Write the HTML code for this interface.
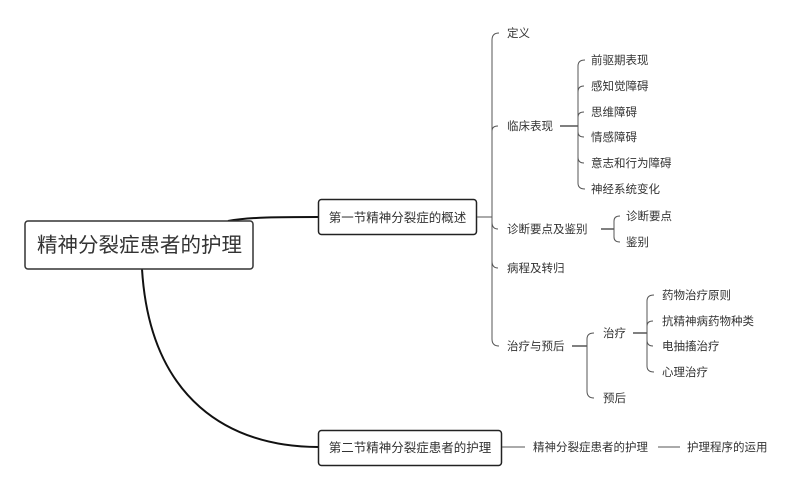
<!DOCTYPE html>
<html><head><meta charset="utf-8"><style>
html,body{margin:0;padding:0;background:#fff;}
svg text{font-family:"Liberation Sans","Noto Sans CJK SC",sans-serif;fill:#333;}
</style></head><body>
<svg width="800" height="489" viewBox="0 0 800 489" xmlns="http://www.w3.org/2000/svg">
<g fill="none" stroke="#111" stroke-width="2">
<path d="M228,221 C250,217 280,217 318,217"/>
<path d="M142,269 C150,400 230,447 318,447"/>
</g>
<rect x="25" y="221" width="228" height="48" rx="3" fill="#fff" stroke="#333" stroke-width="1.5"/>
<text x="139.5" y="252" font-size="20.5" text-anchor="middle">精神分裂症患者的护理</text>
<rect x="318.5" y="199.5" width="158" height="35" rx="3" fill="#fff" stroke="#222" stroke-width="1.5"/>
<text x="397.5" y="222" font-size="12.5" text-anchor="middle" fill="#111">第一节精神分裂症的概述</text>
<rect x="318.5" y="430.5" width="183" height="35" rx="3" fill="#fff" stroke="#222" stroke-width="1.5"/>
<text x="410" y="452" font-size="12.5" text-anchor="middle" fill="#111">第二节精神分裂症患者的护理</text>

<g fill="none" stroke="#555" stroke-width="1">
<path d="M477,217 L492,217"/>
<path d="M492,217 L492,40 Q492,33 499,33"/>
<path d="M492,131 Q492,126 498,126"/>
<path d="M492,222 Q492,229 498,229"/>
<path d="M492,261 Q492,268 498,268"/>
<path d="M492,217 L492,339 Q492,346 499,346"/>
<path d="M560,126 L578,126" stroke-width="1.5"/>
<path d="M578,126 L578,66 Q578,60 585,60"/>
<path d="M578,92 Q578,86 584,86"/>
<path d="M578,117 Q578,112 584,112"/>
<path d="M578,132 Q578,137 584,137"/>
<path d="M578,157 Q578,163 584,163"/>
<path d="M578,126 L578,183 Q578,189 585,189"/>
<path d="M601,229 L614,229" stroke-width="1.5"/>
<path d="M614,229 L614,221 Q614,216 620,216"/>
<path d="M614,229 L614,237 Q614,242 620,242"/>
<path d="M572,346 L587,346" stroke-width="1.5"/>
<path d="M587,346 L587,339 Q587,333 594,333"/>
<path d="M587,346 L587,391 Q587,398 594,398"/>
<path d="M633,333 L647,333" stroke-width="1.5"/>
<path d="M647,333 L647,301 Q647,295 654,295"/>
<path d="M647,326 Q647,321 653,321"/>
<path d="M647,340 Q647,346 653,346"/>
<path d="M647,333 L647,366 Q647,372 654,372"/>
<path d="M502,447 L525,447"/>
<path d="M658,447 L680,447"/>
</g>

<g font-size="11.5">
<text x="507" y="37">定义</text>
<text x="507" y="130">临床表现</text>
<text x="507" y="233">诊断要点及鉴别</text>
<text x="507" y="272">病程及转归</text>
<text x="507" y="350">治疗与预后</text>
<text x="591" y="64">前驱期表现</text>
<text x="591" y="90">感知觉障碍</text>
<text x="591" y="116">思维障碍</text>
<text x="591" y="141">情感障碍</text>
<text x="591" y="167">意志和行为障碍</text>
<text x="591" y="193">神经系统变化</text>
<text x="626" y="220">诊断要点</text>
<text x="626" y="246">鉴别</text>
<text x="603" y="337">治疗</text>
<text x="603" y="402">预后</text>
<text x="662" y="299">药物治疗原则</text>
<text x="662" y="325">抗精神病药物种类</text>
<text x="662" y="350">电抽搐治疗</text>
<text x="662" y="376">心理治疗</text>
<text x="533" y="451">精神分裂症患者的护理</text>
<text x="687" y="451">护理程序的运用</text>
</g>
</svg>
</body></html>
